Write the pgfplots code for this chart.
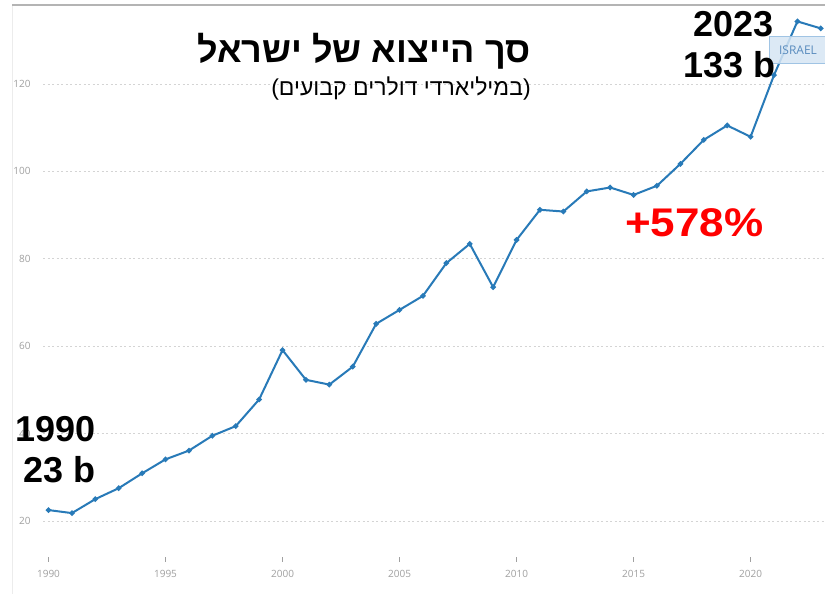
\documentclass[border=0pt]{standalone}
\usepackage{fontspec}
\usepackage{pgfplots}
\pgfplotsset{compat=1.18}
\setmainfont{Open Sans}
\newfontfamily\heb[Script=Hebrew]{Liberation Sans}
\newfontfamily\lsans{Liberation Sans}
\newfontfamily\lsansw{Liberation Sans}[FakeStretch=1.1]
\TeXXeTstate=1
\definecolor{linec}{RGB}{40,122,184}
\definecolor{gridc}{RGB}{212,212,212}
\definecolor{tickc}{RGB}{160,160,160}
\definecolor{boxfill}{RGB}{214,230,244}
\definecolor{boxdraw}{RGB}{160,196,228}
\definecolor{boxtext}{RGB}{90,140,190}
\pgfplotstableread{
year value
1990 22.5
1991 21.8
1992 25.0
1993 27.5
1994 30.9
1995 34.1
1996 36.1
1997 39.5
1998 41.7
1999 47.8
2000 59.1
2001 52.3
2002 51.2
2003 55.3
2004 65.1
2005 68.3
2006 71.5
2007 79.0
2008 83.4
2009 73.5
2010 84.3
2011 91.2
2012 90.8
2013 95.4
2014 96.3
2015 94.6
2016 96.7
2017 101.7
2018 107.2
2019 110.5
2020 107.9
2021 122.0
2022 134.3
2023 132.7
}\exports
\begin{document}
\begin{tikzpicture}[x=1pt,y=1pt]
\useasboundingbox (0,0) rectangle (825,594);
\fill[white] (0,0) rectangle (825,594);
\draw[color={rgb,255:red,236;green,236;blue,236}, line width=1pt] (12,0) -- (12,589);
\draw[color={rgb,255:red,180;green,180;blue,180}, line width=1.5pt] (12,589) -- (825,589);
\begin{axis}[
  at={(43pt,37pt)}, anchor=south west,
  scale only axis, width=782pt, height=557pt,
  xmin=1989.765, xmax=2023.18,
  ymin=11.76, ymax=139.2,
  clip=false,
  axis line style={draw=none},
  xtick={1990,1995,2000,2005,2010,2015,2020},
  ytick={20,40,60,80,100,120},
  xticklabels={1990,1995,2000,2005,2010,2015,2020},
  tick align=outside,
  major tick length=5pt,
  x tick style={draw=tickc, line width=0.8pt},
  y tick style={draw=none},
  ymajorgrids,
  major grid style={draw=gridc, line width=0.8pt, dash pattern=on 2pt off 2.5pt},
  tick label style={font=\fontsize{10}{12}\selectfont, text=tickc},
  /pgf/number format/assume math mode=true,
  yticklabel style={xshift=-4pt},
  xticklabel style={yshift=-5pt},
  scaled ticks=false,
]
\addplot[color=linec, line width=2pt, mark=*, mark size=1.6pt, mark options={fill=linec, draw=linec}] table[x=year, y=value] {\exports};
\end{axis}
% ISRAEL tag
\filldraw[fill=boxfill, fill opacity=0.85, draw=boxdraw, line width=0.8pt] (769,531) rectangle (832,558);
\node[text=boxtext, font=\fontsize{12}{14}\selectfont] at (798,544) {ISRAEL};
% Titles
\node[anchor=base, font=\heb\bfseries\fontsize{36}{40}\selectfont] at (364,531) {\beginR סך הייצוא של ישראל\endR};
\node[anchor=base, font=\heb\fontsize{23}{26}\selectfont] at (401,498) {{\lsans(}\beginR במיליארדי דולרים קבועים\endR{\lsans)}};
% annotations
\node[anchor=base east, font=\lsans\bfseries\fontsize{36}{40}\selectfont, inner sep=0pt] at (96,152) {1990};
\node[anchor=base east, font=\lsans\bfseries\fontsize{36}{40}\selectfont, inner sep=0pt] at (96,111) {23 b};
\node[anchor=base east, font=\lsans\bfseries\fontsize{36}{40}\selectfont, inner sep=0pt] at (774,557) {2023};
\node[anchor=base east, font=\lsans\bfseries\fontsize{36}{40}\selectfont, inner sep=0pt] at (776,516) {133 b};
\node[anchor=base west, font=\lsansw\bfseries\fontsize{40}{44}\selectfont, text={rgb,255:red,255;green,0;blue,0}, inner sep=0pt] at (625,357) {+578\%};
\end{tikzpicture}
\end{document}
